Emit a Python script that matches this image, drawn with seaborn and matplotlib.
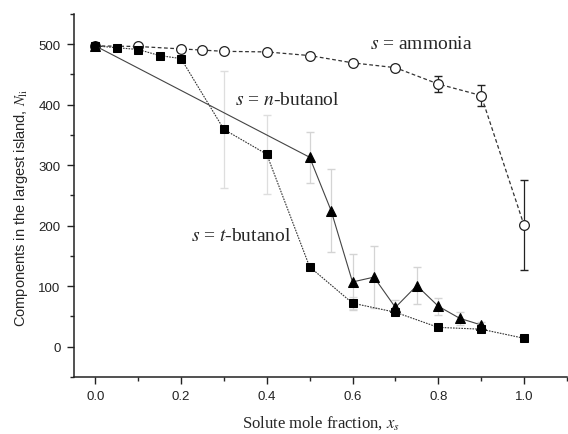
import matplotlib
matplotlib.use("Agg")
import matplotlib.pyplot as plt
import seaborn as sns
import pandas as pd
from matplotlib.ticker import MultipleLocator

# Data
amm_x = [0.0, 0.1, 0.2, 0.25, 0.3, 0.4, 0.5, 0.6, 0.7, 0.8, 0.9, 1.0]
amm_y = [497, 496, 492, 490, 488, 487, 481, 469, 461, 434, 415, 201]
amm_e = [0, 0, 0, 0, 0, 0, 2, 3, 5, 13, 18, 74]

tbu_x = [0.0, 0.05, 0.1, 0.15, 0.2, 0.3, 0.4, 0.5, 0.6, 0.7, 0.8, 0.9, 1.0]
tbu_y = [497, 494, 491, 481, 476, 359, 318, 132, 72, 57, 32, 29, 14]
tbu_e = [0, 0, 0, 0, 0, 96, 65, 0, 10, 5, 3, 3, 0]

nbu_x = [0.0, 0.5, 0.55, 0.6, 0.65, 0.7, 0.75, 0.8, 0.85, 0.9]
nbu_y = [497, 313, 225, 107, 115, 65, 101, 67, 47, 36]
nbu_e = [0, 42, 69, 46, 51, 13, 31, 14, 11, 5]

labels = ["$s$ = ammonia", "$s$ = $n$-butanol", "$s$ = $t$-butanol"]
xticks = [0.0, 0.2, 0.4, 0.6, 0.8, 1.0]
yticks = [0, 100, 200, 300, 400, 500]

sns.set_style("ticks")
plt.rcParams["font.family"] = ["Liberation Sans", "DejaVu Sans"]
plt.rcParams["mathtext.fontset"] = "stix"

fig = plt.figure(figsize=(5.68, 4.35), dpi=100)
ax = fig.add_axes([0.130, 0.131, 0.868, 0.835])

# error bars
def ebar(x, y, e, lc, cc):
    xs = [a for a, b in zip(x, e) if b > 0]
    ys = [a for a, b in zip(y, e) if b > 0]
    es = [b for b in e if b > 0]
    pl, caps, bars = ax.errorbar(xs, ys, yerr=es, fmt="none", ecolor=lc,
                                 elinewidth=0.9, capsize=3, capthick=1.0, zorder=1)
    for c in caps:
        c.set_color(cc)

ebar(amm_x, amm_y, amm_e, "#222222", "#222222")
ebar(tbu_x, tbu_y, tbu_e, "#dedede", "#666666")
ebar(nbu_x, nbu_y, nbu_e, "#d4d4d4", "#555555")

df_a = pd.DataFrame({"x": amm_x, "y": amm_y})
df_t = pd.DataFrame({"x": tbu_x, "y": tbu_y})
df_n = pd.DataFrame({"x": nbu_x, "y": nbu_y})

sns.lineplot(data=df_a, x="x", y="y", ax=ax, color="#333333", lw=0.9,
             linestyle=(0, (3, 2)), marker="o", markersize=7,
             markerfacecolor="white", markeredgecolor="#222222",
             markeredgewidth=0.9, sort=False, zorder=3)
sns.lineplot(data=df_t, x="x", y="y", ax=ax, color="#333333", lw=0.8,
             linestyle=(0, (1.5, 1)), marker="s", markersize=6,
             markerfacecolor="black", markeredgecolor="black",
             sort=False, zorder=4)
sns.lineplot(data=df_n, x="x", y="y", ax=ax, color="#444444", lw=0.8,
             linestyle="-", marker="^", markersize=7.5,
             markerfacecolor="black", markeredgecolor="black",
             sort=False, zorder=4)

tfont = dict(family=["Liberation Serif", "DejaVu Serif"], fontsize=14, ha="center", va="center")
ax.text(0.76, 501, labels[0], **tfont)
ax.text(0.447, 409, labels[1], **tfont)
ax.text(0.34, 183, labels[2], **tfont)

ax.set_xlim(-0.05, 1.10)
ax.set_ylim(-50, 550)
ax.set_xticks(xticks)
ax.set_xticklabels([f"{v:.1f}" for v in xticks])
ax.set_yticks(yticks)
ax.xaxis.set_minor_locator(MultipleLocator(0.1))
ax.yaxis.set_minor_locator(MultipleLocator(50))
ax.tick_params(axis="both", which="major", direction="out", length=5, width=1,
               labelsize=9.5, colors="#222222", pad=4.5)
ax.tick_params(axis="both", which="minor", direction="out", length=3, width=1)
for s in ["left", "bottom"]:
    ax.spines[s].set_linewidth(1.1)
    ax.spines[s].set_color("#222222")
sns.despine(ax=ax)

ax.set_xlabel("Solute mole fraction, $x_s$", family=["Liberation Serif"], fontsize=12)
ax.set_ylabel("Components in the largest island, $N_{\\mathrm{li}}$", fontsize=10.5)
ax.xaxis.set_label_coords(0.5, -0.1)
ax.yaxis.set_label_coords(-0.088, 0.468)

fig.savefig("out.png", dpi=100)
